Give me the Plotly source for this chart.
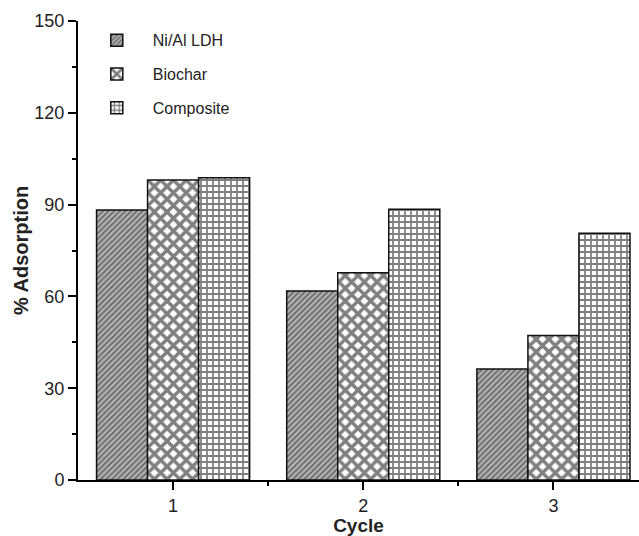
import plotly.graph_objects as go

cycles = [1, 2, 3]
series_names = ["Ni/Al LDH", "Biochar", "Composite"]
ni_al = [88.2, 61.8, 36.3]
biochar = [98.0, 67.7, 47.2]
composite = [98.8, 88.5, 80.6]
y_ticks = [0, 30, 60, 90, 120, 150]

values = [ni_al, biochar, composite]
patterns = [
    dict(shape="/", fgcolor="#1a1a1a", bgcolor="#b4b4b4", size=4, solidity=0.45),
    dict(shape="x", fgcolor="#000000", bgcolor="white", size=9, solidity=0.62),
    dict(shape="+", fgcolor="#000000", bgcolor="white", size=6, solidity=0.5),
]

fig = go.Figure()
for name, vals, pat in zip(series_names, values, patterns):
    fig.add_trace(go.Bar(
        x=cycles, y=vals, name=name, legendgroup=name,
        marker=dict(color="white", pattern=pat, line=dict(color="#111111", width=1.5)),
    ))

font_family = "Liberation Sans, Arial, sans-serif"
fig.update_layout(
    width=639, height=536,
    margin=dict(l=78, r=0, t=21, b=56),
    paper_bgcolor="white", plot_bgcolor="white",
    barmode="group", bargap=0.195, bargroupgap=0,
    font=dict(family=font_family, size=18, color="#222222"),
    showlegend=True,
    legend=dict(x=0.005, y=0.995, xanchor="left", yanchor="top",
                bgcolor="rgba(0,0,0,0)", font=dict(size=16, color="#222222"),
                itemwidth=62, tracegroupgap=10),
    xaxis=dict(
        range=[0.5, 3.45], tickvals=cycles, ticktext=[str(c) for c in cycles],
        showline=True, linecolor="black", linewidth=2,
        ticks="outside", ticklen=8, tickwidth=2, tickcolor="black",
        minor=dict(tickvals=[1.5, 2.5], ticks="outside", ticklen=4, tickwidth=2, tickcolor="black"),
        showgrid=False, zeroline=False,
        title=dict(text="<b>Cycle</b>", standoff=0, font=dict(size=19, color="#222222")),
        tickfont=dict(size=18),
    ),
    yaxis=dict(
        range=[0, 150], tickvals=y_ticks,
        showline=True, linecolor="black", linewidth=2,
        ticks="outside", ticklen=8, tickwidth=2, tickcolor="black",
        minor=dict(tickvals=[15, 45, 75, 105, 135], ticks="outside", ticklen=4, tickwidth=2, tickcolor="black"),
        showgrid=False, zeroline=False,
        title=dict(text="<b>% Adsorption</b>", standoff=0, font=dict(size=20, color="#222222")),
        tickfont=dict(size=18),
    ),
)

fig.write_html("out.html")
